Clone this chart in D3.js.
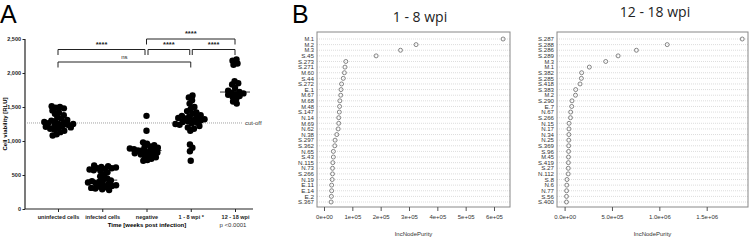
<!DOCTYPE html>
<html>
  <head>
    <meta charset="utf-8" />
    <title>Cell viability and IncNodePurity</title>
    <script src="https://d3js.org/d3.v7.min.js"></script>
    <style>
      body {
        margin: 0;
        background: #fff;
      }
      svg {
        font-family: "Liberation Sans", Arial, sans-serif;
        display: block;
      }
    </style>
  </head>
  <body>
    <div id="chart"></div>
    <script>
      // ---- data, panel A ----
      const groups = ["uninfected cells", "infected cells", "negative", "1 - 8 wpi *", "12 - 18 wpi"];
      const uninfected = [1510, 1500, 1490, 1480, 1450, 1420, 1400, 1380, 1350, 1330, 1310, 1300, 1290, 1280, 1270,
        1260, 1250, 1250, 1240, 1230, 1220, 1210, 1200, 1190, 1180, 1170, 1150, 1130, 1100, 1080];
      const infected = [640, 630, 620, 610, 600, 600, 590, 580, 570, 560, 540, 500, 480, 450, 430, 420, 410, 400,
        390, 380, 370, 360, 350, 340, 330, 320, 310, 300, 290, 280];
      const negative = [1370, 1150, 980, 960, 940, 920, 910, 900, 890, 880, 870, 860, 860, 850, 840, 830, 820,
        810, 800, 790, 780, 760, 740, 720, 710];
      const wpi1to8 = [1670, 1640, 1600, 1550, 1500, 1470, 1440, 1420, 1400, 1380, 1370, 1360, 1350, 1340, 1330,
        1320, 1310, 1300, 1290, 1280, 1270, 1260, 1250, 1240, 1220, 1200, 1180, 1150, 950, 900, 850, 710];
      const wpi12to18 = [2200, 2180, 2140, 2120, 1880, 1850, 1830, 1780, 1740, 1720, 1710, 1700, 1690, 1680, 1660,
        1650, 1620, 1580, 1550];
      const groupValues = [uninfected, infected, negative, wpi1to8, wpi12to18];
      const yTicksA = [0, 500, 1000, 1500, 2000, 2500];
      const cutoff = 1265;

      // ---- data, panel B ----
      const labels1 = ["M.1", "M.2", "M.3", "S.45", "S.273", "S.271", "M.60", "S.44", "S.272", "E.1", "M.67",
        "M.68", "M.48", "S.147", "N.14", "M.69", "N.62", "N.38", "S.297", "S.362", "N.65", "S.43", "N.115",
        "N.73", "S.266", "N.19", "E.11", "E.14", "E.2", "S.367"];
      const purity1 = [632000, 325000, 270000, 184000, 77000, 74000, 72000, 68000, 62000, 60000, 59000, 56000,
        55000, 54000, 52000, 52000, 50000, 45000, 39000, 38000, 33000, 33000, 31000, 30000, 30000, 29000,
        27000, 27000, 26000, 25000];
      const ticks1 = [0, 100000, 200000, 300000, 400000, 500000, 600000];
      const tickLabels1 = ["0e+00", "1e+05", "2e+05", "3e+05", "4e+05", "5e+05", "6e+05"];

      const labels2 = ["S.287", "S.288", "S.286", "S.289", "M.3", "M.1", "S.382", "S.285", "S.418", "S.383",
        "M.2", "S.290", "E.7", "N.67", "S.266", "N.15", "N.17", "N.34", "N.25", "S.369", "S.96", "M.45",
        "S.419", "S.27", "N.112", "S.8", "N.6", "N.77", "S.56", "S.400"];
      const purity2 = [1875000, 1083000, 758000, 565000, 434000, 261000, 180000, 177000, 163000, 117000,
        115000, 78000, 75000, 64000, 62000, 47000, 46000, 45000, 44000, 43000, 42000, 41000, 40000, 39000,
        38000, 25000, 23000, 21000, 20000, 20000];
      const ticks2 = [0, 500000, 1000000, 1500000];
      const tickLabels2 = ["0.0e+00", "5.0e+05", "1.0e+06", "1.5e+06"];

      const W = 750, H = 241;
      const svg = d3.select("#chart").append("svg").attr("width", W).attr("height", H);

      // ================= panel A =================
      svg.append("text").attr("x", 0).attr("y", 23).attr("font-size", 25).text("A");

      const x = d3.scalePoint().domain(groups).range([58, 235]);
      const y = d3.scaleLinear().domain([0, 2500]).range([209, 39]);

      // y axis
      const yAxis = svg.append("g").attr("transform", "translate(25,0)")
        .call(d3.axisLeft(y).tickValues(yTicksA).tickSize(2.5).tickPadding(1.5));
      yAxis.selectAll("text").attr("font-size", 5.5).attr("font-weight", "bold").attr("fill", "#222");
      yAxis.select(".domain").attr("stroke", "#222").attr("stroke-width", 1.2).attr("d", "M0,39V209");
      yAxis.selectAll(".tick line").attr("stroke", "#222");

      // x axis
      const xAxis = svg.append("g").attr("transform", "translate(0,209)")
        .call(d3.axisBottom(x).tickSize(3).tickPadding(3));
      xAxis.select(".domain").attr("stroke", "#222").attr("stroke-width", 1.2).attr("d", "M25,0H253");
      xAxis.selectAll(".tick line").attr("stroke", "#222");
      xAxis.selectAll("text").attr("font-size", 5.5).attr("font-weight", "bold").attr("fill", "#222");

      svg.append("text").attr("transform", "translate(7,124) rotate(-90)")
        .attr("text-anchor", "middle").attr("font-size", 6).attr("font-weight", "bold")
        .text("Cell viability [RLU]");
      svg.append("text").attr("x", 147).attr("y", 227).attr("text-anchor", "middle")
        .attr("font-size", 6).attr("font-weight", "bold").text("Time [weeks post infection]");
      svg.append("text").attr("x", 233).attr("y", 227).attr("text-anchor", "middle")
        .attr("font-size", 6).attr("fill", "#333").text("p <0.0001");

      // cut-off
      svg.append("line").attr("x1", 25).attr("x2", 243).attr("y1", y(cutoff)).attr("y2", y(cutoff))
        .attr("stroke", "#888").attr("stroke-width", 0.8).attr("stroke-dasharray", "1,1");
      svg.append("text").attr("x", 245).attr("y", y(cutoff) + 2).attr("font-size", 6)
        .attr("fill", "#333").text("cut-off");

      // beeswarm points (y fixed, x pushed apart around the group centre)
      const r = 3.2;
      const nodes = [];
      groupValues.forEach((vals, gi) => {
        vals.forEach((v) => {
          nodes.push({ g: gi, v: v, x: x(groups[gi]), y: y(v), fy: y(v) });
        });
      });
      const sim = d3.forceSimulation(nodes)
        .force("x", d3.forceX((d) => x(groups[d.g])).strength(0.25))
        .force("collide", d3.forceCollide(2.1))
        .stop();
      for (let i = 0; i < 300; i++) sim.tick();

      svg.append("g").selectAll("circle").data(nodes).join("circle")
        .attr("cx", (d) => d.x).attr("cy", (d) => d.y).attr("r", r).attr("fill", "#000");

      // medians
      svg.append("g").selectAll("line").data(groupValues).join("line")
        .attr("x1", (d, i) => x(groups[i]) - 15).attr("x2", (d, i) => x(groups[i]) + 15)
        .attr("y1", (d) => y(d3.median(d))).attr("y2", (d) => y(d3.median(d)))
        .attr("stroke", "#000").attr("stroke-width", 0.8);

      // significance brackets
      const brackets = [
        { a: 2, b: 4, yy: 39, label: "****" },
        { a: 0, b: 2, yy: 49.5, label: "****", o2: -1.5 },
        { a: 2, b: 3, yy: 49.5, label: "****", o1: 1.5, o2: -1 },
        { a: 3, b: 4, yy: 49.5, label: "****", o1: 1.5 },
        { a: 0, b: 3, yy: 62, label: "ns" },
      ];
      const bg = svg.append("g");
      brackets.forEach((br) => {
        const x1 = x(groups[br.a]) + (br.o1 || 0);
        const x2 = x(groups[br.b]) + (br.o2 || 0);
        bg.append("path")
          .attr("d", `M${x1},${br.yy + 5.5}V${br.yy}H${x2}V${br.yy + 5.5}`)
          .attr("fill", "none").attr("stroke", "#222").attr("stroke-width", 1);
        bg.append("text").attr("x", (x1 + x2) / 2).attr("y", br.yy - 3)
          .attr("text-anchor", "middle")
          .attr("font-size", br.label === "ns" ? 6 : 7.5)
          .attr("font-weight", br.label === "ns" ? "normal" : "bold")
          .attr("fill", "#222").text(br.label);
      });

      // ================= panel B =================
      svg.append("text").attr("x", 292).attr("y", 23).attr("font-size", 25).text("B");

      function dotchart(opts) {
        const g = svg.append("g");
        const xs = d3.scaleLinear().domain(opts.domain).range([opts.left, opts.right]);
        const ys = d3.scalePoint().domain(opts.labels).range([39, 202]);

        g.append("text").attr("x", opts.titleX).attr("y", opts.titleY).attr("text-anchor", "middle")
          .attr("font-family", "'Open Sans', sans-serif").attr("font-size", 14).attr("fill", "#222")
          .text(opts.title);

        g.selectAll(".grid").data(opts.labels).join("line").attr("class", "grid")
          .attr("x1", opts.boxL).attr("x2", opts.boxR)
          .attr("y1", (d) => ys(d)).attr("y2", (d) => ys(d))
          .attr("stroke", "#bbb").attr("stroke-width", 0.5).attr("stroke-dasharray", "1,1");

        g.append("rect").attr("x", opts.boxL).attr("y", 32).attr("width", opts.boxR - opts.boxL)
          .attr("height", 175).attr("fill", "none").attr("stroke", "#888").attr("stroke-width", 1);

        g.selectAll(".lab").data(opts.labels).join("text").attr("class", "lab")
          .attr("x", opts.boxL - 3).attr("y", (d) => ys(d) + 2.2).attr("text-anchor", "end")
          .attr("font-size", 5.8).attr("fill", "#333").attr("textLength", (d) => d.length * 3.2)
          .attr("lengthAdjust", "spacingAndGlyphs").text((d) => d);

        g.selectAll(".pt").data(opts.values).join("circle").attr("class", "pt")
          .attr("cx", (d) => xs(d)).attr("cy", (d, i) => ys(opts.labels[i])).attr("r", 2)
          .attr("fill", "none").attr("stroke", "#555").attr("stroke-width", 0.7);

        const ax = g.append("g").attr("transform", "translate(0,207)")
          .call(d3.axisBottom(xs).tickValues(opts.ticks).tickFormat((d, i) => opts.tickLabels[i])
            .tickSize(4).tickPadding(4));
        ax.select(".domain").remove();
        ax.selectAll(".tick line").attr("stroke", "#555");
        ax.selectAll("text").attr("font-size", 6).attr("fill", "#333");

        g.append("text").attr("x", (opts.boxL + opts.boxR) / 2).attr("y", 236)
          .attr("text-anchor", "middle").attr("font-size", 6).attr("fill", "#333").text("IncNodePurity");
      }

      dotchart({
        labels: labels1, values: purity1, ticks: ticks1, tickLabels: tickLabels1,
        domain: [0, 600000], left: 324, right: 494, boxL: 317, boxR: 510,
        title: "1 - 8 wpi", titleX: 420, titleY: 22,
      });
      dotchart({
        labels: labels2, values: purity2, ticks: ticks2, tickLabels: tickLabels2,
        domain: [0, 1500000], left: 564.6, right: 706.7, boxL: 557, boxR: 748,
        title: "12 - 18 wpi", titleX: 655, titleY: 17,
      });
    </script>
  </body>
</html>
